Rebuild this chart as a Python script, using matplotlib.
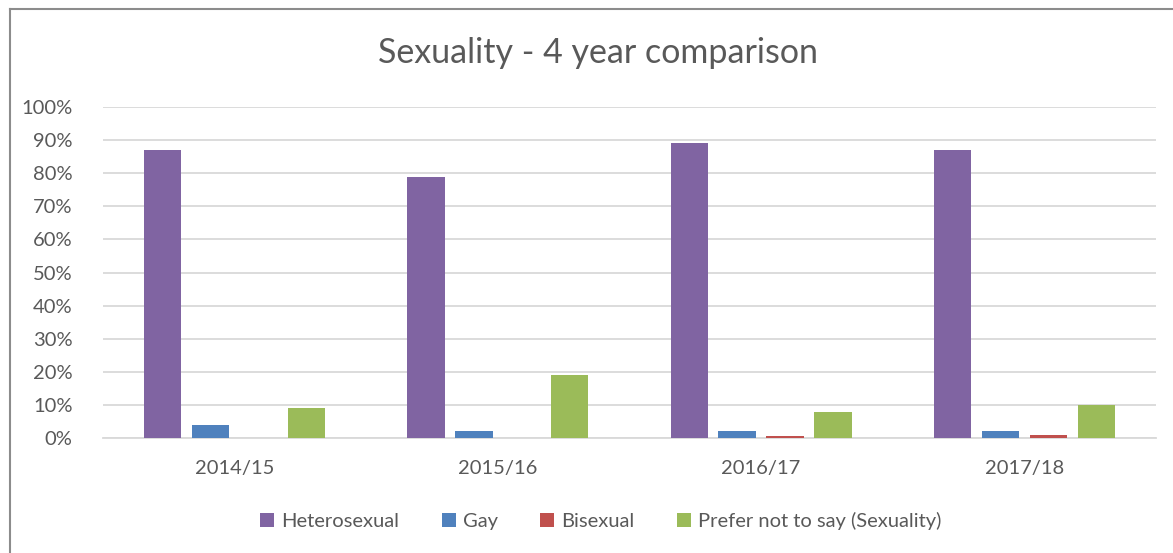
import matplotlib.pyplot as plt
from matplotlib.lines import Line2D
import numpy as np

plt.rcParams['font.family'] = ['Lato', 'DejaVu Sans']

# data
years = ['2014/15', '2015/16', '2016/17', '2017/18']
series_names = ['Heterosexual', 'Gay', 'Bisexual', 'Prefer not to say (Sexuality)']
heterosexual = [87, 79, 89, 87]
gay = [4, 2, 2, 2]
bisexual = [0, 0, 0.5, 1]
prefer_not = [9, 19, 8, 10]
colors = ['#8064A2', '#4F81BD', '#C0504D', '#9BBB59']
y_ticks = [0, 10, 20, 30, 40, 50, 60, 70, 80, 90, 100]

W, H = 1173, 553
fig = plt.figure(figsize=(W / 100, H / 100), dpi=100)
ax = fig.add_axes([103 / W, 1 - 438 / H, (1156 - 103) / W, (438 - 107) / H])

text_col = '#595959'
x = np.arange(len(years))
step = 0.182
bw = 0.142
all_series = [heterosexual, gay, bisexual, prefer_not]
for i, (vals, name, c) in enumerate(zip(all_series, series_names, colors)):
    ax.bar(x + (i - 1.5) * step, vals, width=bw, color=c, label=name, zorder=3)

ax.set_xlim(-0.5, len(years) - 0.5)
ax.set_ylim(0, 100)
ax.set_yticks(y_ticks)
ax.set_yticklabels([f'{t}%' for t in y_ticks])
ax.set_xticks(x)
ax.set_xticklabels(years)
ax.yaxis.grid(True, color='#D9D9D9', linewidth=1.3, zorder=0)
for s in ['top', 'right', 'left']:
    ax.spines[s].set_visible(False)
ax.spines['bottom'].set_color('#D9D9D9')
ax.spines['bottom'].set_linewidth(1.3)
ax.tick_params(length=0, labelsize=14.5, colors=text_col)
ax.tick_params(axis='y', pad=22)
ax.tick_params(axis='x', pad=16)

fig.text(0.5 * (103 + 1156) / W - 0.027, 1 - 53 / H, 'Sexuality - 4 year comparison',
         ha='center', va='center', fontsize=24.5, color=text_col)

fig.legend(loc='center', bbox_to_anchor=(0.5 * (103 + 1156) / W - 0.0245, 1 - 521 / H),
           ncol=4, frameon=False, fontsize=14.5, labelcolor=text_col,
           handlelength=0.7, handleheight=0.7, handletextpad=0.35, columnspacing=2.1)

# chart border (top and left edges visible)
fig.add_artist(Line2D([10 / W, 1], [1 - 9 / H, 1 - 9 / H], color='#8C8C8C', linewidth=1.5))
fig.add_artist(Line2D([10 / W, 10 / W], [0, 1 - 9 / H], color='#8C8C8C', linewidth=1.5))

fig.savefig('out.png', dpi=100)
